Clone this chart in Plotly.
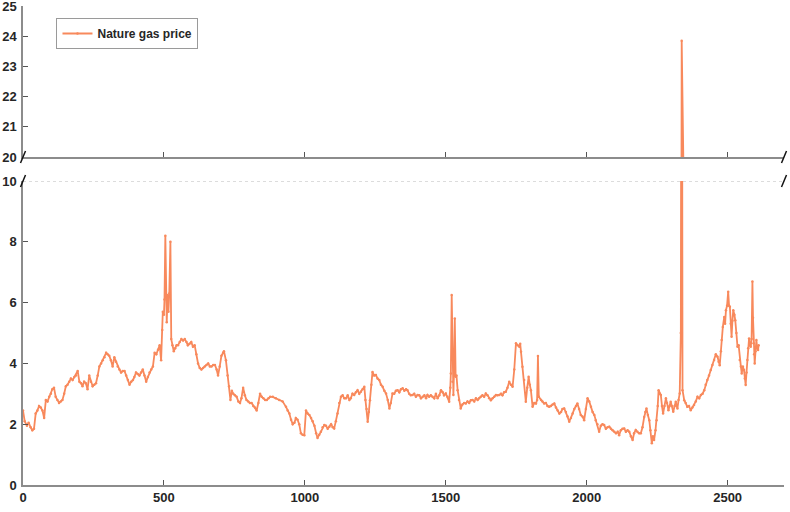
import plotly.graph_objects as go

# day index and Henry Hub style price
day = [0, 6, 14, 20, 27, 33, 39, 45, 51, 57, 63, 69, 75, 81, 87, 93, 99, 104, 110, 116,
       122, 128, 134, 140, 146, 152, 158, 164, 170, 176, 182, 188, 194, 200, 206, 211, 217, 223, 229, 235,
       241, 247, 253, 259, 265, 271, 277, 283, 289, 295, 300, 306, 312, 318, 324, 330, 336, 342, 348, 354,
       360, 366, 372, 378, 384, 390, 395, 401, 407, 413, 419, 425, 431, 437, 443, 449, 455, 461, 467, 473,
       479, 485, 490, 494, 496, 500, 502, 505, 507, 510, 513, 516, 519, 523, 526, 530, 535, 540, 545, 550,
       556, 562, 568, 574, 580, 585, 591, 597, 603, 609, 615, 621, 627, 633, 639, 645, 651, 657, 663, 669,
       675, 681, 687, 692, 698, 704, 710, 713, 720, 726, 731, 736, 741, 746, 752, 758, 764, 770, 775, 781,
       787, 793, 799, 805, 811, 817, 823, 829, 835, 841, 847, 853, 859, 865, 871, 877, 886, 897, 909, 921,
       933, 939, 945, 951, 957, 963, 968, 974, 980, 986, 992, 998, 1004, 1010, 1016, 1022, 1028, 1034, 1040, 1045,
       1051, 1057, 1063, 1069, 1075, 1081, 1087, 1093, 1099, 1104, 1110, 1116, 1122, 1128, 1134, 1140, 1146, 1152, 1158, 1163,
       1169, 1175, 1181, 1187, 1193, 1199, 1205, 1211, 1215, 1219, 1223, 1227, 1231, 1236, 1240, 1246, 1252, 1258, 1264, 1270,
       1276, 1282, 1288, 1294, 1300, 1305, 1311, 1317, 1323, 1329, 1335, 1341, 1347, 1353, 1359, 1364, 1370, 1376, 1382, 1388,
       1394, 1400, 1406, 1412, 1418, 1424, 1430, 1435, 1441, 1447, 1453, 1459, 1465, 1471, 1477, 1483, 1489, 1494, 1500, 1506,
       1512, 1516, 1518, 1521, 1524, 1527, 1530, 1532, 1535, 1538, 1542, 1547, 1553, 1559, 1565, 1571, 1577, 1583, 1589, 1595,
       1601, 1607, 1613, 1618, 1624, 1630, 1636, 1642, 1648, 1654, 1660, 1666, 1672, 1678, 1684, 1690, 1696, 1701, 1707, 1713,
       1719, 1725, 1731, 1737, 1743, 1749, 1755, 1761, 1764, 1767, 1772, 1778, 1784, 1789, 1794, 1798, 1802, 1808, 1814, 1820,
       1824, 1827, 1830, 1838, 1843, 1849, 1855, 1861, 1867, 1873, 1879, 1885, 1891, 1897, 1903, 1909, 1914, 1920, 1926, 1932,
       1938, 1944, 1950, 1956, 1962, 1967, 1973, 1979, 1985, 1991, 1997, 2003, 2009, 2015, 2021, 2027, 2032, 2038, 2044, 2050,
       2056, 2062, 2068, 2074, 2080, 2086, 2092, 2098, 2104, 2110, 2115, 2121, 2127, 2133, 2139, 2145, 2151, 2157, 2163, 2168,
       2174, 2180, 2186, 2192, 2198, 2204, 2208, 2212, 2217, 2222, 2226, 2231, 2235, 2239, 2244, 2248, 2252, 2255, 2259, 2263,
       2267, 2271, 2276, 2281, 2285, 2290, 2294, 2298, 2302, 2307, 2312, 2316, 2319, 2322, 2326, 2330, 2334, 2337, 2340, 2346,
       2351, 2357, 2363, 2369, 2375, 2381, 2387, 2393, 2399, 2405, 2411, 2417, 2422, 2428, 2434, 2440, 2446, 2452, 2458, 2464,
       2468, 2472, 2476, 2479, 2483, 2488, 2491, 2494, 2498, 2502, 2505, 2508, 2511, 2514, 2517, 2520, 2524, 2527, 2531, 2535,
       2539, 2543, 2547, 2550, 2554, 2558, 2561, 2564, 2567, 2570, 2573, 2576, 2579, 2582, 2585, 2588, 2590, 2592, 2594, 2596,
       2599, 2602, 2605, 2608, 2610]

price = [2.45, 2.1, 1.95, 2.05, 1.9, 1.8, 1.85, 2.35, 2.45, 2.6, 2.55, 2.45, 2.2, 2.8, 2.75, 2.9, 3.0, 3.15, 3.2, 2.9,
         2.8, 2.7, 2.75, 2.8, 3.0, 3.25, 3.3, 3.4, 3.5, 3.45, 3.55, 3.6, 3.75, 3.4, 3.35, 3.25, 3.4, 3.35, 3.15, 3.6,
         3.4, 3.25, 3.3, 3.35, 3.6, 3.9, 4.0, 4.1, 4.2, 4.35, 4.3, 4.25, 4.1, 3.9, 4.2, 4.05, 3.9, 3.8, 3.7, 3.75,
         3.75, 3.6, 3.45, 3.3, 3.4, 3.45, 3.55, 3.7, 3.65, 3.6, 3.7, 3.8, 3.6, 3.4, 3.55, 3.7, 3.8, 3.9, 4.35, 4.3,
         4.45, 4.6, 4.1, 5.1, 5.7, 5.6, 6.1, 8.2, 6.35, 5.35, 6.25, 5.7, 6.3, 8.0, 4.8, 4.6, 4.4, 4.5, 4.6, 4.6,
         4.7, 4.8, 4.75, 4.8, 4.7, 4.6, 4.65, 4.7, 4.55, 4.6, 4.3, 4.0, 3.85, 3.8, 3.85, 3.9, 3.95, 4.0, 3.9, 3.9,
         3.95, 3.95, 3.8, 3.6, 3.9, 4.25, 4.35, 4.4, 4.1, 3.6, 3.25, 2.8, 3.1, 3.0, 2.95, 2.9, 2.75, 2.7, 2.85, 3.2,
         2.95, 2.8, 2.75, 2.7, 2.7, 2.6, 2.55, 2.45, 2.7, 3.0, 2.9, 2.85, 2.8, 2.8, 2.85, 2.9, 2.9, 2.85, 2.8, 2.75,
         2.57, 2.45, 2.35, 2.15, 2.0, 2.05, 2.2, 2.15, 2.0, 1.7, 1.65, 1.64, 2.45, 2.35, 2.3, 2.2, 2.1, 1.95, 1.7, 1.55,
         1.65, 1.75, 1.9, 1.97, 1.95, 1.85, 1.92, 2.0, 1.9, 1.86, 2.1, 2.35, 2.7, 2.9, 2.95, 2.85, 2.85, 2.95, 2.8, 2.85,
         3.0, 2.96, 3.05, 3.12, 3.0, 3.07, 3.15, 3.23, 2.8, 2.5, 2.08, 2.4, 2.79, 3.3, 3.72, 3.6, 3.62, 3.5, 3.45, 3.3,
         3.23, 3.1, 3.01, 2.8, 2.52, 2.7, 3.01, 3.0, 3.1, 3.12, 3.05, 3.15, 3.18, 3.1, 3.15, 3.12, 3.0, 2.95, 2.96, 3.0,
         2.9, 2.96, 2.95, 2.85, 2.9, 2.95, 2.85, 2.96, 2.9, 2.95, 2.9, 2.85, 3.0, 2.85, 2.95, 3.12, 3.05, 2.95, 3.01, 2.9,
         2.74, 3.2, 3.67, 6.25, 3.4, 2.96, 4.0, 5.48, 3.56, 3.6, 3.12, 2.8, 2.52, 2.65, 2.7, 2.68, 2.75, 2.7, 2.79, 2.8,
         2.75, 2.85, 2.8, 2.85, 2.9, 2.95, 2.9, 3.01, 2.95, 2.85, 2.79, 2.85, 2.9, 2.96, 2.95, 2.96, 3.0, 2.95, 3.05, 3.07,
         3.2, 3.4, 3.3, 3.23, 3.8, 4.66, 4.6, 4.55, 4.65, 4.38, 3.89, 3.45, 2.74, 3.2, 3.56, 3.3, 3.12, 2.57, 2.7, 2.68,
         2.8, 4.24, 2.9, 2.8, 2.75, 2.68, 2.7, 2.6, 2.57, 2.6, 2.65, 2.68, 2.55, 2.45, 2.35, 2.4, 2.5, 2.52, 2.4, 2.25,
         2.08, 2.2, 2.35, 2.5, 2.6, 2.68, 2.5, 2.3, 2.25, 2.13, 2.5, 2.85, 2.75, 2.57, 2.4, 2.3, 2.13, 2.0, 1.75, 1.95,
         2.0, 1.97, 1.85, 1.9, 1.92, 1.85, 1.8, 1.75, 1.7, 1.75, 1.64, 1.8, 1.85, 1.86, 1.75, 1.8, 1.75, 1.6, 1.48, 1.7,
         1.81, 1.75, 1.7, 1.7, 1.9, 2.24, 2.4, 2.52, 2.3, 2.13, 1.8, 1.37, 1.6, 1.48, 1.8, 2.13, 2.6, 3.12, 3.0, 2.96,
         2.6, 2.35, 2.6, 2.85, 2.7, 2.46, 2.6, 2.74, 2.6, 2.41, 2.6, 2.74, 2.6, 2.52, 2.8, 3.01, 5.0, 23.85, 3.12, 2.79,
         2.7, 2.57, 2.6, 2.46, 2.55, 2.63, 2.75, 2.9, 2.85, 2.96, 3.0, 3.12, 3.3, 3.45, 3.6, 3.78, 3.95, 4.11, 4.3, 4.22,
         4.05, 3.94, 4.4, 4.77, 5.2, 5.53, 5.3, 5.75, 5.9, 6.36, 5.9, 5.86, 5.3, 4.88, 5.4, 5.75, 5.6, 5.42, 5.0, 4.55,
         4.6, 4.11, 3.9, 3.67, 3.9, 3.78, 3.5, 3.29, 3.7, 4.11, 4.5, 4.82, 4.6, 4.55, 4.8, 6.69, 5.5, 4.66, 4.3, 4.0,
         4.4, 4.77, 4.5, 4.44, 4.6]

x_ticks = [0, 500, 1000, 1500, 2000, 2500]
low_ticks = [0, 2, 4, 6, 8, 10]
high_ticks = [20, 21, 22, 23, 24, 25]

line_color = "#F8895C"
axis_color = "#8C8C8C"
tick_font = dict(family="Liberation Sans, Arial", size=13, color="#262626", weight="bold")

low_top = 0.6347
high_bottom = 0.6848

fig = go.Figure()
fig.add_trace(go.Scatter(x=day, y=price, xaxis="x", yaxis="y", name="Nature gas price",
                         mode="lines+markers", line=dict(color=line_color, width=1.8),
                         marker=dict(size=2.5, color=line_color)))
fig.add_trace(go.Scatter(x=day, y=price, xaxis="x2", yaxis="y2", showlegend=False,
                         mode="lines+markers", line=dict(color=line_color, width=1.8),
                         marker=dict(size=2.5, color=line_color)))

axis_common = dict(showline=True, linecolor=axis_color, linewidth=1.5, ticks="inside", ticklen=5,
                   tickcolor="#555555", tickwidth=1, showgrid=False, zeroline=False, tickfont=tick_font,
                   automargin=False, ticklabeloverflow="allow")

fig.update_layout(
    width=790, height=512,
    margin=dict(l=23, r=6, t=6, b=27, autoexpand=False),
    plot_bgcolor="white", paper_bgcolor="white",
    xaxis=dict(domain=[0, 1], range=[0, 2700], anchor="y", tickvals=x_ticks, **axis_common),
    xaxis2=dict(domain=[0, 1], range=[0, 2700], anchor="y2", matches="x", tickvals=x_ticks,
                showticklabels=False, **axis_common),
    yaxis=dict(domain=[0, low_top], range=[0, 10], tickvals=low_ticks, anchor="x",
               ticklabelstandoff=2, **axis_common),
    yaxis2=dict(domain=[high_bottom, 1], range=[20, 25], tickvals=high_ticks, anchor="x2",
                ticklabelstandoff=2, **axis_common),
    legend=dict(x=0.044, y=0.975, xanchor="left", yanchor="top", bgcolor="white",
                bordercolor="#9a9a9a", borderwidth=1, itemwidth=30,
                font=dict(family="Liberation Sans, Arial", size=12, color="#262626", weight="bold")),
    showlegend=True,
)

# dotted top edge of the lower panel
fig.add_shape(type="line", xref="paper", yref="y", x0=0, x1=1, y0=10, y1=10,
              line=dict(color="#b5b5b5", width=1, dash="dot"))

# break marks on both sides of the gap
for xa in (0, 1):
    for ya in (low_top, high_bottom):
        fig.add_shape(type="line", xref="paper", yref="paper",
                      xsizemode="pixel", xanchor=xa, x0=-2.5, x1=2.5,
                      ysizemode="pixel", yanchor=ya, y0=-6, y1=6,
                      line=dict(color="#111111", width=1.5))

# drop the browser's default body margin so the figure fills the window
fig.write_html("out.html", config={"displayModeBar": False},
               post_script="document.body.style.margin = '0';")
